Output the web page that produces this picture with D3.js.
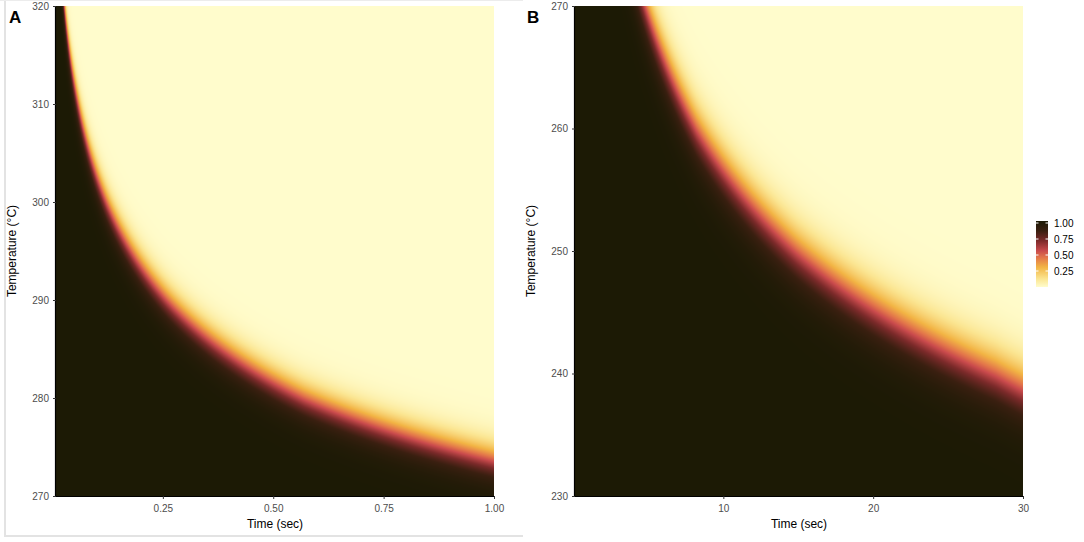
<!DOCTYPE html>
<html>
<head>
<meta charset="utf-8">
<script src="https://cdn.jsdelivr.net/npm/d3@7"></script>
<style>
  body { margin: 0; background: #fff; }
  text { font-family: 'Liberation Sans', Arial, sans-serif; }
  .tick text { fill: #4d4d4d; font-size: 10px; }
  .axis-title { font-size: 12px; fill: #000; }
</style>
</head>
<body>
<div id="chart"></div>
<script>
// Panel A: 50% contour (time in sec -> temperature in °C)
const contourTimeA = [0.027, 0.058, 0.122, 0.26, 0.57, 1.0];
const contourTempA = [320, 310, 300, 290, 280, 273.7];
const bandWidthA = 1.05;
const timeDomainA = [0.008, 1.0];
const tempDomainA = [270, 320];
const timeTicksA = [0.25, 0.5, 0.75, 1.0];
const tempTicksA = [270, 280, 290, 300, 310, 320];

// Panel B
const contourTimeB = [4.8, 8.2, 14.9, 28.2, 30];
const contourTempB = [270, 260, 250, 240, 238.8];
const bandWidthB = 1.3;
const timeDomainB = [0.1, 30];
const tempDomainB = [230, 270];
const timeTicksB = [10, 20, 30];
const tempTicksB = [230, 240, 250, 260, 270];

// colour legend
const legendStops = [0, 0.12, 0.3, 0.45, 0.55, 0.7, 0.85, 1];
const legendColors = ['#fffccc', '#fbe693', '#f2b444', '#e2744a', '#c94a4c', '#7c2a2a', '#3a1f10', '#1c1a05'];
const legendTicks = [0.25, 0.5, 0.75, 1.0];

const width = 1084;
const height = 542;

const color = d3.scaleLinear().domain(legendStops).range(legendColors).interpolate(d3.interpolateRgb).clamp(true);

const svg = d3.select('#chart')
  .append('svg')
  .attr('width', width)
  .attr('height', height);

// light frame around panel A (screenshot border)
svg.append('line').attr('x1', 5).attr('x2', 5).attr('y1', 0).attr('y2', 537)
  .attr('stroke', '#e3e3e3').attr('stroke-width', 2);
svg.append('line').attr('x1', 5).attr('x2', 523).attr('y1', 536).attr('y2', 536)
  .attr('stroke', '#e3e3e3').attr('stroke-width', 2);
svg.append('line').attr('x1', 0).attr('x2', 523).attr('y1', 0.5).attr('y2', 0.5)
  .attr('stroke', '#ececec').attr('stroke-width', 1);

function drawPanel(opts) {
  const { left, right, top, bottom } = opts.area;

  const xScale = d3.scaleLinear().domain(opts.timeDomain).range([left, right]);
  const yScale = d3.scaleLinear().domain(opts.tempDomain).range([bottom, top]);
  // temperature of the 50% contour at each time
  const contour = d3.scaleLog().domain(opts.contourTime).range(opts.contourTemp);

  // raster of the surface, one cell per pixel
  const w = Math.round(right - left);
  const h = Math.round(bottom - top);
  const canvas = document.createElement('canvas');
  canvas.width = w;
  canvas.height = h;
  const ctx = canvas.getContext('2d');
  const img = ctx.createImageData(w, h);

  for (let px = 0; px < w; px++) {
    const t = xScale.invert(left + px + 0.5);
    const t50 = contour(t);
    for (let py = 0; py < h; py++) {
      const T = yScale.invert(top + py + 0.5);
      const v = 1 / (1 + Math.exp((T - t50) / opts.bandWidth));
      const c = d3.rgb(color(v));
      const i = (py * w + px) * 4;
      img.data[i] = c.r;
      img.data[i + 1] = c.g;
      img.data[i + 2] = c.b;
      img.data[i + 3] = 255;
    }
  }
  ctx.putImageData(img, 0, 0);

  svg.append('image')
    .attr('x', left)
    .attr('y', top)
    .attr('width', w)
    .attr('height', h)
    .attr('preserveAspectRatio', 'none')
    .attr('href', canvas.toDataURL());

  // axes
  const xAxis = d3.axisBottom(xScale).tickValues(opts.timeTicks).tickSize(3).tickPadding(6)
    .tickFormat(opts.timeFormat);
  const yAxis = d3.axisLeft(yScale).tickValues(opts.tempTicks).tickSize(3).tickPadding(4)
    .tickFormat(d3.format('d'));

  const gx = svg.append('g')
    .attr('transform', `translate(0, ${bottom})`)
    .call(xAxis);
  gx.select('.domain').attr('d', `M${left},0.5H${right}`).attr('stroke', '#000').attr('stroke-width', 1.2);
  gx.selectAll('.tick line').attr('stroke', '#333');

  const gy = svg.append('g')
    .attr('transform', `translate(${left}, 0)`)
    .call(yAxis);
  gy.select('.domain').attr('d', `M-0.5,${top}V${bottom}`).attr('stroke', '#000').attr('stroke-width', 1.2);
  gy.selectAll('.tick line').attr('stroke', '#333');

  // titles
  svg.append('text')
    .attr('class', 'axis-title')
    .attr('x', (left + right) / 2)
    .attr('y', bottom + 32)
    .attr('text-anchor', 'middle')
    .text('Time (sec)');

  svg.append('text')
    .attr('class', 'axis-title')
    .attr('transform', `translate(${left - 40}, ${(top + bottom) / 2}) rotate(-90)`)
    .attr('text-anchor', 'middle')
    .text('Temperature (°C)');

  svg.append('text')
    .attr('x', opts.labelX)
    .attr('y', 23)
    .style('font-size', '17px')
    .style('font-weight', 'bold')
    .text(opts.label);
}

drawPanel({
  area: { left: 56, right: 494, top: 6, bottom: 496 },
  timeDomain: timeDomainA,
  tempDomain: tempDomainA,
  timeTicks: timeTicksA,
  tempTicks: tempTicksA,
  contourTime: contourTimeA,
  contourTemp: contourTempA,
  bandWidth: bandWidthA,
  timeFormat: d3.format('.2f'),
  label: 'A',
  labelX: 9,
});

drawPanel({
  area: { left: 575, right: 1023, top: 6, bottom: 496 },
  timeDomain: timeDomainB,
  tempDomain: tempDomainB,
  timeTicks: timeTicksB,
  tempTicks: tempTicksB,
  contourTime: contourTimeB,
  contourTemp: contourTempB,
  bandWidth: bandWidthB,
  timeFormat: d3.format('d'),
  label: 'B',
  labelX: 527,
});

// colour bar
const barX = 1036;
const barW = 12;
const legendScale = d3.scaleLinear().domain([0, 1]).range([287, 223]);

const defs = svg.append('defs');
const grad = defs.append('linearGradient')
  .attr('id', 'legend-grad')
  .attr('x1', 0).attr('x2', 0).attr('y1', 1).attr('y2', 0);
grad.selectAll('stop')
  .data(legendStops)
  .join('stop')
  .attr('offset', (d) => d)
  .attr('stop-color', (d) => color(d));

svg.append('rect')
  .attr('x', barX)
  .attr('y', legendScale(1) - 2)
  .attr('width', barW)
  .attr('height', legendScale(0) - legendScale(1) + 2)
  .attr('fill', 'url(#legend-grad)');

const legendG = svg.append('g');
legendG.selectAll('line.l')
  .data(legendTicks)
  .join('line')
  .attr('class', 'l')
  .attr('x1', barX).attr('x2', barX + 2.5)
  .attr('y1', (d) => legendScale(d)).attr('y2', (d) => legendScale(d))
  .attr('stroke', '#fff');
legendG.selectAll('line.r')
  .data(legendTicks)
  .join('line')
  .attr('class', 'r')
  .attr('x1', barX + barW - 2.5).attr('x2', barX + barW)
  .attr('y1', (d) => legendScale(d)).attr('y2', (d) => legendScale(d))
  .attr('stroke', '#fff');
legendG.selectAll('text')
  .data(legendTicks)
  .join('text')
  .attr('x', barX + barW + 6)
  .attr('y', (d) => legendScale(d))
  .attr('dy', '0.35em')
  .style('font-size', '10px')
  .attr('fill', '#000')
  .text((d) => d3.format('.2f')(d));
</script>
</body>
</html>
